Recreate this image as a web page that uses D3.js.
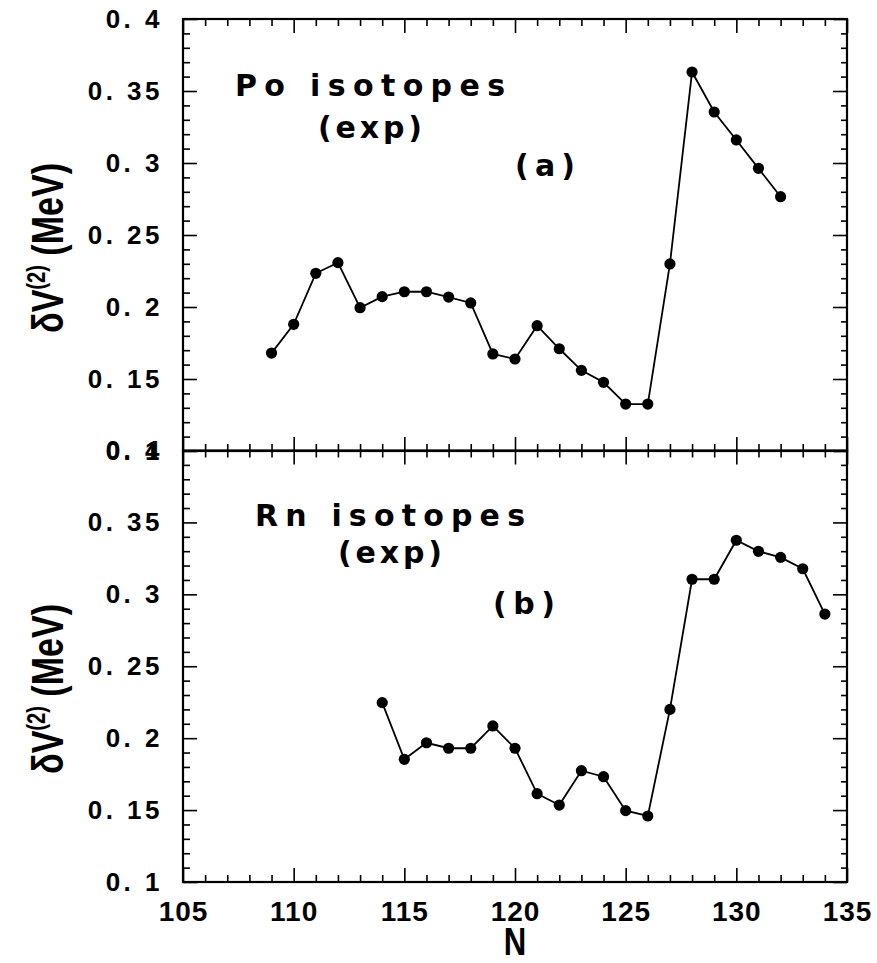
<!DOCTYPE html>
<html>
<head>
<meta charset="utf-8">
<script src="https://cdn.jsdelivr.net/npm/d3@7"></script>
<style>
  body { margin: 0; background: #fff; }
  text { font-family: "Liberation Sans", Arial, sans-serif; font-weight: bold; fill: #000; }
  text.note { font-family: "DejaVu Sans", sans-serif; }
</style>
</head>
<body>
<script>
// Po isotopes (panel a)
const poN = [109,110,111,112,113,114,115,116,117,118,119,120,121,122,123,124,125,126,127,128,129,130,131,132];
const poV = [0.168,0.188,0.2234,0.2308,0.1995,0.2072,0.2106,0.2106,0.2069,0.2028,0.1674,0.1639,0.187,0.171,0.156,0.1477,0.1326,0.1326,0.2299,0.3632,0.3354,0.316,0.2963,0.2766];

// Rn isotopes (panel b)
const rnN = [114,115,116,117,118,119,120,121,122,123,124,125,126,127,128,129,130,131,132,133,134];
const rnV = [0.2247,0.1853,0.1968,0.193,0.193,0.2085,0.193,0.1614,0.1535,0.1774,0.1732,0.1496,0.1459,0.220,0.3105,0.3105,0.3376,0.3299,0.3257,0.3178,0.2863];

const xTicks = [105,110,115,120,125,130,135];
const yTicks = [0.1,0.15,0.2,0.25,0.3,0.35,0.4];

const width = 877, height = 963;
const svg = d3.select('body').append('svg')
    .attr('width', width)
    .attr('height', height);

const x = d3.scaleLinear().domain([105,135]).range([183,847]);
const xMinor = d3.range(105,136).filter(d => d % 5 != 0);
const yMinor = d3.range(10,41).map(d => d/100).filter(d => Math.round(d*100) % 5 != 0);

const fmtY = d => String(+d.toFixed(2)).replace('.', '. ');

const panels = [
  {top: 19, bottom: 451, N: poN, V: poV, labels: [
    {t: 'Po isotopes', x: 235, y: 96, len: 270},
    {t: '(exp)', x: 318, y: 138, len: 104},
    {t: '(a)', x: 515, y: 176, len: 60}], titleY: 248, xLabels: false},
  {top: 450.5, bottom: 882, N: rnN, V: rnV, labels: [
    {t: 'Rn isotopes', x: 255, y: 526, len: 270},
    {t: '(exp)', x: 338, y: 563, len: 104},
    {t: '(b)', x: 493, y: 614, len: 62}], titleY: 689, xLabels: true}
];

panels.forEach(p => {
  const y = d3.scaleLinear().domain([0.1,0.4]).range([p.bottom, p.top]);
  const g = svg.append('g');

  // minor ticks, all four sides, pointing inward
  g.append('g').attr('transform', `translate(${x(105)},0)`)
    .call(d3.axisLeft(y).tickValues(yMinor).tickSize(-7).tickFormat(''));
  g.append('g').attr('transform', `translate(${x(135)},0)`)
    .call(d3.axisRight(y).tickValues(yMinor).tickSize(-6).tickFormat(''));
  g.append('g').attr('transform', `translate(0,${p.top})`)
    .call(d3.axisTop(x).tickValues(xMinor).tickSize(-7).tickFormat(''));
  g.append('g').attr('transform', `translate(0,${p.bottom})`)
    .call(d3.axisBottom(x).tickValues(xMinor).tickSize(-7).tickFormat(''));

  // major ticks
  const yl = g.append('g').attr('class','ylab').attr('transform', `translate(${x(105)},0)`)
    .call(d3.axisLeft(y).tickValues(yTicks).tickSize(-14).tickPadding(20).tickFormat(fmtY));
  g.append('g').attr('transform', `translate(${x(135)},0)`)
    .call(d3.axisRight(y).tickValues(yTicks).tickSize(-14).tickFormat(''));
  g.append('g').attr('transform', `translate(0,${p.top})`)
    .call(d3.axisTop(x).tickValues(xTicks).tickSize(-14).tickFormat(''));
  g.append('g').attr('class','xlab').attr('transform', `translate(0,${p.bottom})`)
    .call(d3.axisBottom(x).tickValues(xTicks).tickSize(-14).tickPadding(19)
      .tickFormat(p.xLabels ? d3.format('d') : ''));

  g.selectAll('.domain').remove();
  g.selectAll('.tick line').attr('stroke', '#000').attr('stroke-width', 1.6);
  yl.selectAll('text').attr('font-size', 26).attr('letter-spacing', 3.5)
    .attr('font-family', null);
  g.selectAll('.xlab text').attr('font-size', 28).attr('letter-spacing', 1)
    .attr('font-family', null);

  // frame
  g.append('rect')
    .attr('x', x(105)).attr('y', p.top)
    .attr('width', x(135) - x(105)).attr('height', p.bottom - p.top)
    .attr('fill', 'none').attr('stroke', '#000').attr('stroke-width', 2.2);

  // data
  const pts = p.N.map((n, i) => [n, p.V[i]]);
  g.append('path').datum(pts)
    .attr('fill', 'none').attr('stroke', '#000').attr('stroke-width', 1.8)
    .attr('d', d3.line().x(d => x(d[0])).y(d => y(d[1])));
  g.selectAll('circle.pt').data(pts).join('circle')
    .attr('class', 'pt')
    .attr('cx', d => x(d[0])).attr('cy', d => y(d[1]))
    .attr('r', 5.6).attr('fill', '#000');

  // annotations
  p.labels.forEach(l => {
    g.append('text').attr('class', 'note')
      .attr('x', l.x).attr('y', l.y)
      .attr('font-size', 30)
      .attr('textLength', l.len).attr('lengthAdjust', 'spacing')
      .text(l.t);
  });

  // y title: δV(2) (MeV), condensed
  const tt = g.append('text')
    .attr('font-size', 44)
    .attr('text-anchor', 'middle');
  tt.append('tspan').text('δV');
  tt.append('tspan').attr('font-size', 26).attr('dy', -18).text('(2)');
  tt.append('tspan').attr('dy', 18).text(' (MeV)');
  const w = tt.node().getComputedTextLength();
  const sx = 170 / w;
  tt.attr('transform', `translate(63,${p.titleY}) rotate(-90) scale(${sx},1)`);
});

// x axis title
svg.append('text')
  .attr('font-size', 38)
  .attr('text-anchor', 'middle')
  .attr('transform', `translate(${x(120)},955) scale(0.82,1)`)
  .text('N');
</script>
</body>
</html>
